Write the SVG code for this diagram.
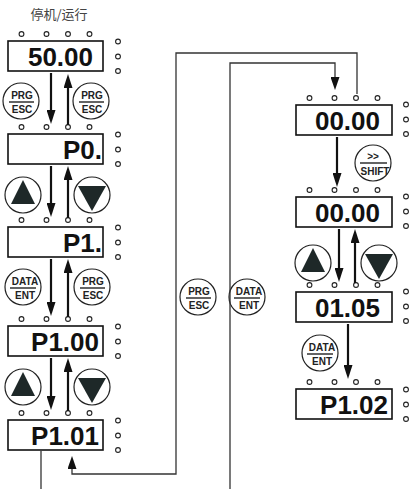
<svg xmlns="http://www.w3.org/2000/svg" width="413" height="489" viewBox="0 0 413 489">
<defs>
<style>
.box{fill:#fff;stroke:#111;stroke-width:1.6}
.val{font-family:"Liberation Sans",Arial,sans-serif;font-weight:bold;font-size:26px;fill:#111;text-anchor:end}
.dot{fill:#fff;stroke:#222;stroke-width:1.1}
.btn{fill:#fff;stroke:#222;stroke-width:1.2}
.bt{font-family:"Liberation Sans",Arial,sans-serif;font-weight:bold;font-size:10px;fill:#222;text-anchor:middle}
.bar{stroke:#222;stroke-width:1.4}
.arr{stroke:#111;stroke-width:2.2;fill:none;marker-end:url(#ah)}
.conn{stroke:#333;stroke-width:1.3;fill:none}
.tri{fill:#1e2828}
.title{font-family:"Noto Sans CJK SC",sans-serif;font-size:13px;fill:#444;text-anchor:middle}
</style>
<marker id="ah" markerUnits="userSpaceOnUse" markerWidth="14" markerHeight="9" refX="8" refY="4.5" orient="auto">
<path d="M0,0 L14,4.5 L0,9 z" fill="#111"/>
</marker>
<marker id="ahs" markerUnits="userSpaceOnUse" markerWidth="13" markerHeight="9" refX="10" refY="4.5" orient="auto">
<path d="M0,0 L13,4.5 L0,9 z" fill="#111"/>
</marker>
<g id="dots4">
<circle class="dot" cx="13.5" cy="0" r="2.4"/><circle class="dot" cx="38.5" cy="0" r="2.4"/><circle class="dot" cx="60" cy="0" r="2.4"/><circle class="dot" cx="81.5" cy="0" r="2.4"/>
</g>
<g id="dots3">
<circle class="dot" cx="0" cy="0.5" r="2.4"/><circle class="dot" cx="0" cy="15.5" r="2.4"/><circle class="dot" cx="0" cy="30" r="2.4"/>
</g>
</defs>
<rect width="413" height="489" fill="#fff"/>

<text class="title" x="59" y="19">停机/运行</text>

<!-- left column displays -->
<g id="d1"><use href="#dots4" x="8" y="34"/><rect class="box" x="8" y="41" width="95" height="30"/><use href="#dots3" x="118" y="41"/><text class="val" x="93" y="66">50.00</text></g>
<g id="d2"><use href="#dots4" x="8" y="127"/><rect class="box" x="8" y="134" width="95" height="30"/><use href="#dots3" x="118" y="134"/><text class="val" x="102" y="159">P0.</text></g>
<g id="d3"><use href="#dots4" x="8" y="220"/><rect class="box" x="8" y="227" width="95" height="30"/><use href="#dots3" x="118" y="227"/><text class="val" x="102" y="252">P1.</text></g>
<g id="d4"><use href="#dots4" x="8" y="319"/><rect class="box" x="8" y="326" width="95" height="30"/><use href="#dots3" x="118" y="326"/><text class="val" x="99" y="351">P1.00</text></g>
<g id="d5"><use href="#dots4" x="8" y="413"/><rect class="box" x="8" y="420" width="95" height="30"/><use href="#dots3" x="118" y="420"/><text class="val" x="99" y="445">P1.01</text></g>

<!-- right column displays -->
<g id="d6"><use href="#dots4" x="296" y="98"/><rect class="box" x="296" y="105" width="96" height="30"/><use href="#dots3" x="406" y="104"/><text class="val" x="380" y="130">00.00</text></g>
<g id="d7"><use href="#dots4" x="296" y="190"/><rect class="box" x="296" y="197" width="96" height="30"/><use href="#dots3" x="406" y="196"/><text class="val" x="380" y="222">00.00</text></g>
<g id="d8"><use href="#dots4" x="296" y="285"/><rect class="box" x="296" y="292" width="96" height="30"/><use href="#dots3" x="406" y="291"/><text class="val" x="380" y="317">01.05</text></g>
<g id="d9"><use href="#dots4" x="296" y="382"/><rect class="box" x="296" y="389" width="96" height="30"/><use href="#dots3" x="406" y="389"/><text class="val" x="388" y="414">P1.02</text></g>

<!-- buttons -->
<g id="b1"><circle class="btn" cx="21" cy="101" r="18"/><text class="bt" x="22" y="99">PRG</text><line class="bar" x1="9" y1="102" x2="34" y2="102"/><text class="bt" x="22" y="113">ESC</text></g>
<g id="b2"><circle class="btn" cx="91" cy="101" r="18"/><text class="bt" x="92" y="99">PRG</text><line class="bar" x1="79" y1="102" x2="104" y2="102"/><text class="bt" x="92" y="113">ESC</text></g>
<g id="b3"><circle class="btn" cx="23" cy="195" r="18"/><polygon class="tri" points="23,180 11,204 35,204"/></g>
<g id="b4"><circle class="btn" cx="92" cy="195" r="18"/><polygon class="tri" points="78,186 106,186 92,211"/></g>
<g id="b5"><circle class="btn" cx="23" cy="287" r="18"/><text class="bt" x="25" y="285">DATA</text><line class="bar" x1="10" y1="288" x2="36" y2="288"/><text class="bt" x="25" y="299">ENT</text></g>
<g id="b6"><circle class="btn" cx="92" cy="287" r="18"/><text class="bt" x="93" y="285">PRG</text><line class="bar" x1="80" y1="288" x2="105" y2="288"/><text class="bt" x="93" y="299">ESC</text></g>
<g id="b7"><circle class="btn" cx="23" cy="387" r="18"/><polygon class="tri" points="23,372 11,396 35,396"/></g>
<g id="b8"><circle class="btn" cx="92" cy="387" r="18"/><polygon class="tri" points="78,378 106,378 92,403"/></g>
<g id="b9"><circle class="btn" cx="198" cy="297" r="18"/><text class="bt" x="199" y="295">PRG</text><line class="bar" x1="186" y1="298" x2="211" y2="298"/><text class="bt" x="199" y="309">ESC</text></g>
<g id="b10"><circle class="btn" cx="247" cy="297" r="18"/><text class="bt" x="249" y="295">DATA</text><line class="bar" x1="234" y1="298" x2="260" y2="298"/><text class="bt" x="249" y="309">ENT</text></g>
<g id="b11"><circle class="btn" cx="373" cy="163" r="18"/><text class="bt" x="373" y="160">&gt;&gt;</text><line class="bar" x1="360" y1="163" x2="387" y2="163"/><text class="bt" x="375" y="175">SHIFT</text></g>
<g id="b12"><circle class="btn" cx="313" cy="263" r="18"/><polygon class="tri" points="313,248 301,272 325,272"/></g>
<g id="b13"><circle class="btn" cx="379" cy="263" r="18"/><polygon class="tri" points="365,254 393,254 379,279"/></g>
<g id="b14"><circle class="btn" cx="320" cy="353" r="18"/><text class="bt" x="322" y="351">DATA</text><line class="bar" x1="307" y1="354" x2="333" y2="354"/><text class="bt" x="322" y="365">ENT</text></g>

<!-- connectors -->
<g id="connectors">
<line class="arr" x1="51" y1="73" x2="51" y2="118"/>
<line class="arr" x1="68" y1="125" x2="68" y2="80"/>
<line class="arr" x1="51" y1="166" x2="51" y2="211"/>
<line class="arr" x1="68" y1="218" x2="68" y2="172"/>
<line class="arr" x1="51" y1="259" x2="51" y2="310"/>
<line class="arr" x1="68" y1="317" x2="68" y2="265"/>
<line class="arr" x1="51" y1="358" x2="51" y2="404"/>
<line class="arr" x1="68" y1="411" x2="68" y2="364"/>
<line class="arr" x1="337" y1="137" x2="337" y2="181"/>
<line class="arr" x1="339" y1="229" x2="339" y2="276"/>
<line class="arr" x1="355" y1="283" x2="355" y2="235"/>
<line class="arr" x1="348" y1="324" x2="348" y2="373"/>
<path class="conn" d="M357,94 V53 H176 V474 H72 V459" marker-end="url(#ahs)"/>
<path class="conn" d="M230,489 V63 H335 V87" marker-end="url(#ahs)"/>
<path class="conn" d="M41,451 V489"/>
</g>
</svg>
